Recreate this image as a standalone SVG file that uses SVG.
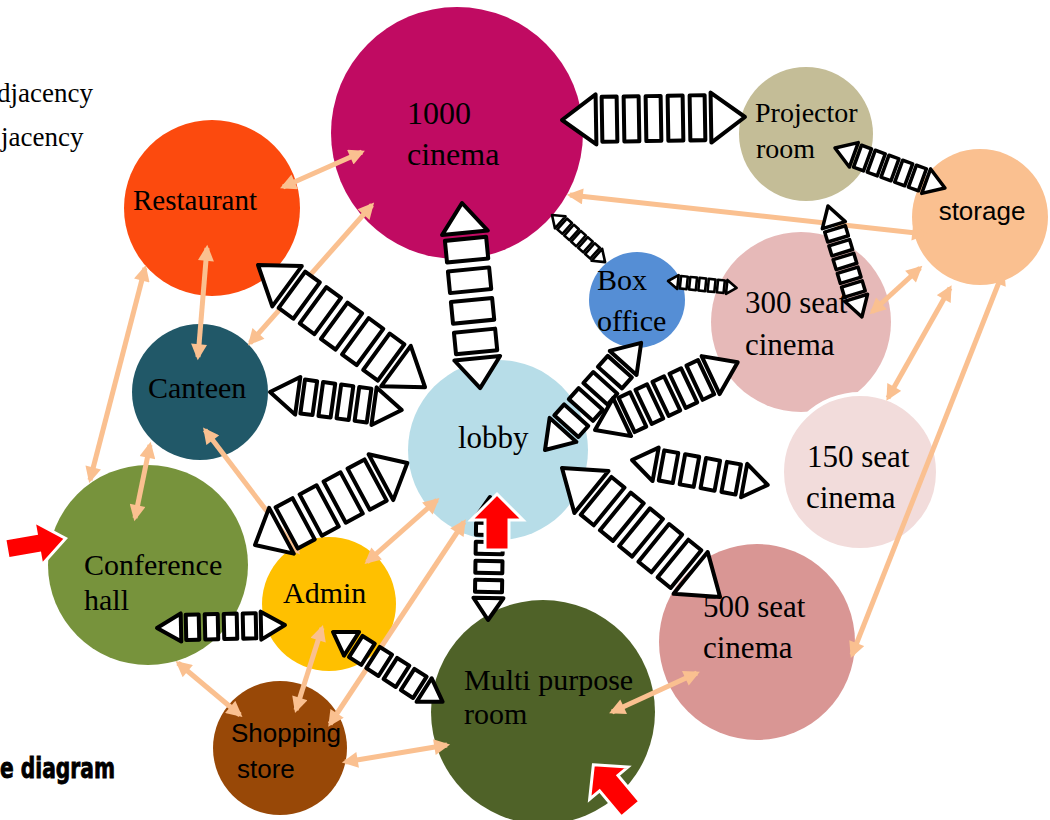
<svg xmlns="http://www.w3.org/2000/svg" width="1050" height="820" viewBox="0 0 1050 820">
<style>
.serif{font-family:"Liberation Serif","Times New Roman",serif;font-size:30px;fill:#000}
.sans{font-family:"Liberation Sans",Arial,sans-serif;font-size:26px;fill:#000}
.blk polygon,.blk rect{fill:#fff;stroke:#000;stroke-width:4;stroke-linejoin:round}
.blk.s polygon,.blk.s rect{stroke-width:2.6}
.blk.m polygon,.blk.m rect{stroke-width:3.5}
.peach{stroke:#FAC090;stroke-width:5;fill:none;marker-start:url(#ph);marker-end:url(#ph)}
.red{fill:#FF0000;stroke:#fff;stroke-width:3;stroke-linejoin:miter}
</style>
<defs>
<marker id="ph" viewBox="0 0 10 10" refX="8" refY="5" markerWidth="18" markerHeight="16" markerUnits="userSpaceOnUse" orient="auto-start-reverse">
<path d="M0,0 L10,5 L0,10 z" fill="#FAC090"/>
</marker>
</defs>
<rect width="1050" height="820" fill="#fff"/>

<g id="legend">
<text class="serif" x="-3" y="102" style="font-size:27px">djacency</text>
<text class="serif" x="1" y="146" style="font-size:27px">jacency</text>
<text x="0" y="778" textLength="115" lengthAdjust="spacingAndGlyphs" style="font-family:'DejaVu Sans Condensed','DejaVu Sans',sans-serif;font-weight:bold;font-size:28px;stroke:#000;stroke-width:0.8">e diagram</text>
</g>

<g id="n1000">
<circle cx="457" cy="133" r="126" fill="#C00B62"/>
<text class="serif" x="407" y="124" style="font-size:32px">1000</text>
<text class="serif" x="407" y="165" style="font-size:32px">cinema</text>
</g>
<g id="projector">
<circle cx="806" cy="134" r="67" fill="#C4BD97"/>
<text class="serif" x="755" y="122" style="font-size:28px">Projector</text>
<text class="serif" x="756" y="158" style="font-size:28px">room</text>
</g>
<g id="storage">
<circle cx="980" cy="217" r="68" fill="#FAC090"/>
<text class="sans" x="982" y="220" text-anchor="middle">storage</text>
</g>
<g id="restaurant">
<circle cx="212" cy="208" r="88" fill="#FC4A0E"/>
<text class="serif" x="133" y="210" style="font-size:29px">Restaurant</text>
</g>
<g id="canteen">
<circle cx="200" cy="392" r="68" fill="#215868"/>
<text class="serif" x="148" y="398">Canteen</text>
</g>
<g id="lobby">
<circle cx="498" cy="450" r="90" fill="#B7DDE8"/>
<text class="serif" x="458" y="448" style="font-size:31px">lobby</text>
</g>
<g id="boxoffice">
<circle cx="637" cy="300" r="48" fill="#558ED5"/>
<text class="serif" x="597" y="290">Box</text>
<text class="serif" x="597" y="331">office</text>
</g>
<g id="c300">
<circle cx="801" cy="322" r="90" fill="#E6B9B8"/>
<text class="serif" x="745" y="313" style="font-size:31px">300 seat</text>
<text class="serif" x="745" y="355" style="font-size:31px">cinema</text>
</g>
<g id="c150">
<circle cx="860" cy="472" r="78" fill="#F2DCDB" stroke="#fff" stroke-width="4"/>
<text class="serif" x="807" y="467" style="font-size:31px">150 seat</text>
<text class="serif" x="806" y="508" style="font-size:31px">cinema</text>
</g>
<g id="conference">
<circle cx="148" cy="565" r="100" fill="#77933C"/>
<text class="serif" x="84" y="575">Conference</text>
<text class="serif" x="84" y="610">hall</text>
</g>
<g id="admin">
<circle cx="329" cy="604" r="67" fill="#FFC000"/>
<text class="serif" x="283" y="603">Admin</text>
</g>
<g id="shopping">
<circle cx="280" cy="748" r="67" fill="#984807"/>
<text class="sans" x="231" y="742">Shopping</text>
<text class="sans" x="237" y="778">store</text>
</g>
<g id="multipurpose">
<circle cx="543" cy="712" r="112" fill="#4F6228"/>
<text class="serif" x="464" y="690">Multi purpose</text>
<text class="serif" x="464" y="724">room</text>
</g>
<g id="c500">
<circle cx="757" cy="642" r="98" fill="#D99694"/>
<text class="serif" x="703" y="617" style="font-size:31px">500 seat</text>
<text class="serif" x="703" y="658" style="font-size:31px">cinema</text>
</g>

<g id="connectors">
<line class="peach" x1="283" y1="187" x2="362" y2="152"/>
<line class="peach" x1="250" y1="343" x2="372" y2="205"/>
<line class="peach" x1="207" y1="248" x2="198" y2="357"/>
<line class="peach" x1="145" y1="268" x2="90" y2="480"/>
<line class="peach" x1="150" y1="445" x2="135" y2="518"/>
<line class="peach" x1="205" y1="430" x2="298" y2="552"/>
<line class="peach" x1="367" y1="562" x2="437" y2="500"/>
<line class="peach" x1="322" y1="628" x2="296" y2="710"/>
<line class="peach" x1="178" y1="663" x2="240" y2="715"/>
<line class="peach" x1="330" y1="724" x2="464" y2="522"/>
<line class="peach" x1="345" y1="762" x2="447" y2="745"/>
<line class="peach" x1="612" y1="712" x2="697" y2="673"/>
<line class="peach" x1="570" y1="195" x2="925" y2="234"/>
<line class="peach" x1="872" y1="312" x2="920" y2="268"/>
<line class="peach" x1="888" y1="398" x2="950" y2="288"/>
<line class="peach" x1="852" y1="655" x2="1003" y2="272"/>

<g class="blk" transform="translate(562,120) rotate(-0.94)">
<polygon points="0,0 34,-25 34,25"/><polygon points="149,-25 149,25 183,0"/>
<rect x="40" y="-22.5" width="15" height="45"/><rect x="62" y="-22.5" width="15" height="45"/><rect x="84" y="-22.5" width="15" height="45"/><rect x="106" y="-22.5" width="15" height="45"/><rect x="128" y="-22.5" width="15" height="45"/>
</g>
<g class="blk" transform="translate(462,203) rotate(84.4)">
<polygon points="0,0 30,-23 30,23"/><polygon points="156,-23 156,23 186,0"/>
<rect x="36" y="-20.7" width="21.75" height="41.4"/><rect x="66.75" y="-20.7" width="21.75" height="41.4"/><rect x="97.5" y="-20.7" width="21.75" height="41.4"/><rect x="128.25" y="-20.7" width="21.75" height="41.4"/>
</g>
<g class="blk" transform="translate(258,265) rotate(36.2)">
<polygon points="0,0 36,-25 36,25"/><polygon points="171,-25 171,25 207,0"/>
<rect x="42" y="-22.5" width="18.2" height="45"/><rect x="68.2" y="-22.5" width="18.2" height="45"/><rect x="94.4" y="-22.5" width="18.2" height="45"/><rect x="120.6" y="-22.5" width="18.2" height="45"/><rect x="146.8" y="-22.5" width="18.2" height="45"/>
</g>
<g class="blk" transform="translate(270,392) rotate(7.8)">
<polygon points="0,0 28,-19 28,19"/><polygon points="105,-19 105,19 133,0"/>
<rect x="33" y="-17.1" width="12.25" height="34.2"/><rect x="51.25" y="-17.1" width="12.25" height="34.2"/><rect x="69.5" y="-17.1" width="12.25" height="34.2"/><rect x="87.75" y="-17.1" width="12.25" height="34.2"/>
</g>
<g class="blk" transform="translate(255,545) rotate(-28.3)">
<polygon points="0,0 30,-26 30,26"/><polygon points="143,-26 143,26 173,0"/>
<rect x="36" y="-23.4" width="19.25" height="46.8"/><rect x="63.25" y="-23.4" width="19.25" height="46.8"/><rect x="90.5" y="-23.4" width="19.25" height="46.8"/><rect x="117.75" y="-23.4" width="19.25" height="46.8"/>
</g>
<g class="blk s" transform="translate(552,215) rotate(41.6)">
<polygon points="0,0 11,-8 11,8"/><polygon points="60,-8 60,8 71,0"/>
<rect x="13.5" y="-7.2" width="6.8" height="14.4"/><rect x="22.8" y="-7.2" width="6.8" height="14.4"/><rect x="32.1" y="-7.2" width="6.8" height="14.4"/><rect x="41.4" y="-7.2" width="6.8" height="14.4"/><rect x="50.7" y="-7.2" width="6.8" height="14.4"/>
</g>
<g class="blk s" transform="translate(668,281) rotate(5.8)">
<polygon points="0,0 10,-7 10,7"/><polygon points="59,-7 59,7 69,0"/>
<rect x="12.5" y="-6.3" width="6.8" height="12.6"/><rect x="21.8" y="-6.3" width="6.8" height="12.6"/><rect x="31.1" y="-6.3" width="6.8" height="12.6"/><rect x="40.4" y="-6.3" width="6.8" height="12.6"/><rect x="49.7" y="-6.3" width="6.8" height="12.6"/>
</g>
<g class="blk" transform="translate(545,450) rotate(-48.1)">
<polygon points="0,0 27,-18 27,18"/><polygon points="117,-18 117,18 144,0"/>
<rect x="32" y="-16.2" width="14.75" height="32.4"/><rect x="53.75" y="-16.2" width="14.75" height="32.4"/><rect x="75.5" y="-16.2" width="14.75" height="32.4"/><rect x="97.25" y="-16.2" width="14.75" height="32.4"/>
</g>
<g class="blk" transform="translate(595,430) rotate(-25.4)">
<polygon points="0,0 30,-21 30,21"/><polygon points="128,-21 128,21 158,0"/>
<rect x="35" y="-18.9" width="12.8" height="37.8"/><rect x="53.8" y="-18.9" width="12.8" height="37.8"/><rect x="72.6" y="-18.9" width="12.8" height="37.8"/><rect x="91.4" y="-18.9" width="12.8" height="37.8"/><rect x="110.2" y="-18.9" width="12.8" height="37.8"/>
</g>
<g class="blk" transform="translate(632,460) rotate(10.4)">
<polygon points="0,0 24,-17 24,17"/><polygon points="114,-17 114,17 138,0"/>
<rect x="30" y="-15.3" width="14.25" height="30.6"/><rect x="51.25" y="-15.3" width="14.25" height="30.6"/><rect x="72.5" y="-15.3" width="14.25" height="30.6"/><rect x="93.75" y="-15.3" width="14.25" height="30.6"/>
</g>
<g class="blk" transform="translate(562,468) rotate(39.2)">
<polygon points="0,0 38,-27 38,27"/><polygon points="166,-27 166,27 204,0"/>
<rect x="44" y="-24.3" width="16.8" height="48.6"/><rect x="68.8" y="-24.3" width="16.8" height="48.6"/><rect x="93.6" y="-24.3" width="16.8" height="48.6"/><rect x="118.4" y="-24.3" width="16.8" height="48.6"/><rect x="143.2" y="-24.3" width="16.8" height="48.6"/>
</g>
<g class="blk" transform="translate(490,497) rotate(90.9)">
<polygon points="0,0 22,-15 22,15"/><polygon points="101,-15 101,15 123,0"/>
<rect x="26" y="-13.5" width="12" height="27"/><rect x="45" y="-13.5" width="12" height="27"/><rect x="64" y="-13.5" width="12" height="27"/><rect x="83" y="-13.5" width="12" height="27"/>
</g>
<g class="blk" transform="translate(157,628) rotate(-1.3)">
<polygon points="0,0 24,-14 24,14"/><polygon points="104,-14 104,14 128,0"/>
<rect x="29" y="-12.6" width="13" height="25.2"/><rect x="48" y="-12.6" width="13" height="25.2"/><rect x="67" y="-12.6" width="13" height="25.2"/><rect x="86" y="-12.6" width="13" height="25.2"/>
</g>
<g class="blk" transform="translate(333,632) rotate(32.5)">
<polygon points="0,0 22,-14 22,14"/><polygon points="108,-14 108,14 130,0"/>
<rect x="27" y="-12.6" width="14.5" height="25.2"/><rect x="47.5" y="-12.6" width="14.5" height="25.2"/><rect x="68" y="-12.6" width="14.5" height="25.2"/><rect x="88.5" y="-12.6" width="14.5" height="25.2"/>
</g>
<g class="blk m" transform="translate(835,148) rotate(20)">
<polygon points="0,0 20,-13 20,13"/><polygon points="97,-13 97,13 117,0"/>
<rect x="24" y="-11.7" width="10.6" height="23.4"/><rect x="38.6" y="-11.7" width="10.6" height="23.4"/><rect x="53.2" y="-11.7" width="10.6" height="23.4"/><rect x="67.8" y="-11.7" width="10.6" height="23.4"/><rect x="82.4" y="-11.7" width="10.6" height="23.4"/>
</g>
<g class="blk m" transform="translate(828,206) rotate(73)">
<polygon points="0,0 20,-12 20,12"/><polygon points="96,-12 96,12 116,0"/>
<rect x="24" y="-10.8" width="10.4" height="21.6"/><rect x="38.4" y="-10.8" width="10.4" height="21.6"/><rect x="52.8" y="-10.8" width="10.4" height="21.6"/><rect x="67.2" y="-10.8" width="10.4" height="21.6"/><rect x="81.6" y="-10.8" width="10.4" height="21.6"/>
</g>
</g>

<g id="markers">
<polygon class="red" transform="rotate(-10,40,543)" points="6,533 38,533 38,521 66,543 38,565 38,553 6,553"/>
<polygon class="red" points="497,494 523,520 509,520 509,550 485,550 485,520 471,520"/>
<polygon class="red" transform="rotate(-40,612,787)" points="612,758 637,782 624,782 624,816 600,816 600,782 587,782"/>
</g>
</svg>
